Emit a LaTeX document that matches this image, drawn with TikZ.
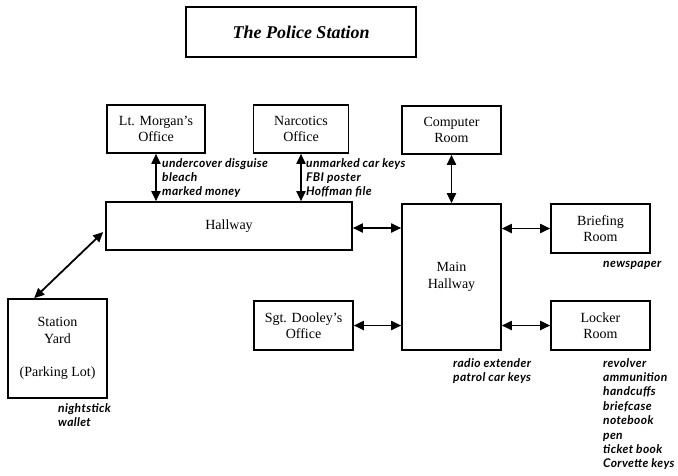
\documentclass[tikz,border=0pt]{standalone}
\usepackage{fontspec}
\setmainfont{Liberation Serif}
\newfontfamily\itemfont{Lato}[LetterSpace=3]
\usetikzlibrary{positioning,arrows.meta,calc}
\tikzset{
  >={Triangle[length=10pt,width=9pt]},
  room/.style={draw,line width=1.6pt,align=center,inner sep=0pt,font=\fontsize{14}{16.5}\selectfont},
  titleBox/.style={draw,line width=2.2pt,inner sep=0pt,font=\bfseries\itshape\fontsize{18}{20}\selectfont},
  item/.style={inner sep=0pt,anchor=base west,font=\itemfont\bfseries\itshape\fontsize{12}{14.4}\selectfont},
  link/.style={<->,line width=1.8pt},
}

\begin{document}
\begin{tikzpicture}[x=1pt,y=-1pt]
\useasboundingbox (0,0) rectangle (678,475);

% ===== Title =====
\node[titleBox,minimum width=230pt,minimum height=50pt] (title) at (301,32) {The Police Station};

% ===== Offices on top =====
\node[room,minimum width=98pt,minimum height=48pt] (morgan) at (156,129) {Lt. Morgan's\\Office};
\node[room,minimum width=95pt,minimum height=48pt] (narcotics) at (301,129) {Narcotics\\Office};
\node[room,minimum width=99pt,minimum height=48pt] (computer) at (451.5,130) {Computer\\Room};

% ===== Hallways =====
\node[room,minimum width=246pt,minimum height=48pt] (hallway) at (229,226) {Hallway};
\node[room,minimum width=99pt,minimum height=146pt] (mainHall) at (451.5,277) {Main\\Hallway};

% ===== Side rooms =====
\node[room,minimum width=99pt,minimum height=49pt] (briefing) at (600.5,228.5) {Briefing\\Room};
\node[room,minimum width=99pt,minimum height=49pt] (dooley) at (303.5,325.5) {Sgt. Dooley's\\Office};
\node[room,minimum width=99pt,minimum height=49pt] (locker) at (600.5,325.5) {Locker\\Room};
\node[room,minimum width=99pt,minimum height=99pt] (yard) at (57.5,348.5) {Station\\Yard\\[17pt](Parking Lot)};

% ===== Connections =====
\draw[link] (morgan.south) -- (morgan.south |- hallway.north);
\draw[link] (narcotics.south) -- (narcotics.south |- hallway.north);
\draw[link] (computer.south) -- (computer.south |- mainHall.north);
\draw[link] ($(hallway.east)+(0,2)$) -- ($(hallway.east -| mainHall.west)+(0,2)$);
\draw[link] (mainHall.east |- briefing.west) -- (briefing.west);
\draw[link] (dooley.east) -- (dooley.east -| mainHall.west);
\draw[link] (mainHall.east |- locker.west) -- (locker.west);
\draw[link] ($(yard.north west)+(27,0)$) -- ($(hallway.west)+(-2,6)$);

% ===== Items in each room =====
\foreach [count=\i] \t in {undercover disguise,bleach,marked money}
  \node[item] (morganItem\i) at (162,{167+14.4*(\i-1)}) {\t};
\foreach [count=\i] \t in {unmarked car keys,FBI poster,Hoffman file}
  \node[item] (narcoticsItem\i) at (306,{167+14.4*(\i-1)}) {\t};
\node[item] (briefingItem1) at (603,267) {newspaper};
\foreach [count=\i] \t in {radio extender,patrol car keys}
  \node[item] (mainItem\i) at (453,{367+14.4*(\i-1)}) {\t};
\foreach [count=\i] \t in {revolver,ammunition,handcuffs,briefcase,notebook,pen,ticket book,Corvette keys}
  \node[item] (lockerItem\i) at (603,{367+14.4*(\i-1)}) {\t};
\foreach [count=\i] \t in {nightstick,wallet}
  \node[item] (yardItem\i) at (58,{412+14.4*(\i-1)}) {\t};

\end{tikzpicture}
\end{document}
